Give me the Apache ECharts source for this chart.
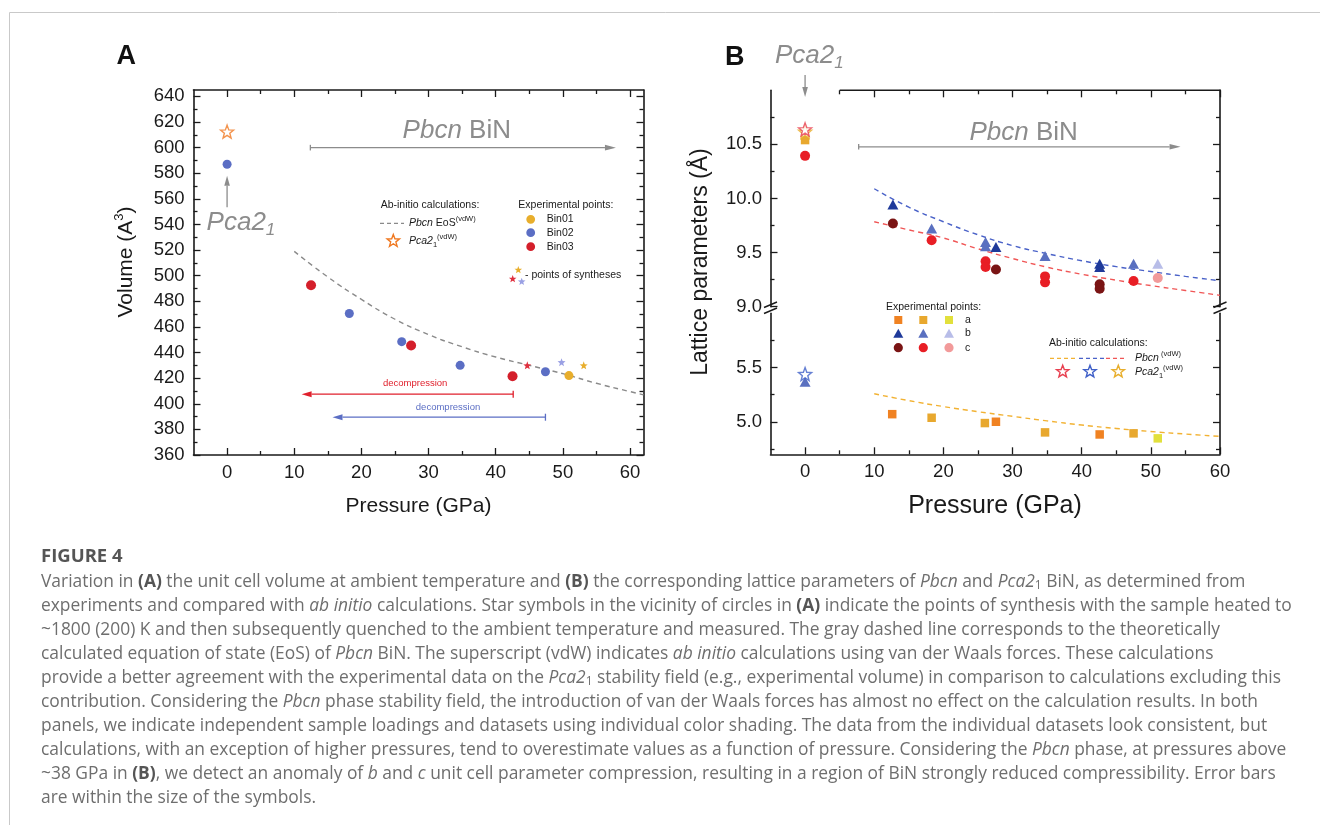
<!DOCTYPE html>
<html>
<head>
<meta charset="utf-8">
<title>Figure 4</title>
<script src="https://cdn.jsdelivr.net/npm/echarts@6.0.0/dist/echarts.min.js"></script>
<style>
  html, body { margin: 0; padding: 0; background: #fff; }
  #chart { width: 1320px; height: 825px; }
</style>
</head>
<body>
<div id="chart"></div>
<script>
// ---------- Panel A: unit cell volume vs pressure (GPa)
const bin01Vol = [[50.9, 422]];
const bin02Vol = [[0, 587], [18.2, 470.5], [26.0, 448.5], [34.7, 430], [47.4, 425]];
const bin03Vol = [[12.5, 492.5], [27.4, 445.5], [42.5, 421.5]];
const pca21Vol = [[0, 612.5]];
const synthBin01 = [[53.1, 430]];
const synthBin02 = [[49.8, 432.5]];
const synthBin03 = [[44.7, 430]];
const eosVol = [[10, 519], [15, 499], [20, 481.5], [25, 466], [30, 454], [35, 444.5],
  [40, 436.5], [45, 430], [50, 423.5], [55, 416], [60, 409.5], [62, 407]];

// ---------- Panel B: lattice parameters a, b, c (Å) vs pressure (GPa)
const aBin03 = [[12.6, 5.07], [27.6, 5.0], [42.6, 4.883]];
const aBin02 = [[0, 10.54], [18.3, 5.037], [26.0, 4.988], [34.7, 4.902], [47.5, 4.893]];
const aBin01 = [[51.0, 4.847]];
const bBin03 = [[12.7, 9.944], [27.6, 9.552], [42.6, 9.398], [42.6, 9.367]];
const bBin02 = [[0, 5.37], [18.3, 9.722], [26.1, 9.598], [26.1, 9.558], [34.7, 9.469], [47.5, 9.398]];
const bBin01 = [[51.0, 9.398]];
const cBin03 = [[12.7, 9.769], [27.6, 9.343], [42.6, 9.207], [42.6, 9.167]];
const cBin02 = [[0, 10.394], [18.3, 9.614], [26.1, 9.42], [26.1, 9.367], [34.7, 9.28], [34.7, 9.225], [47.5, 9.237]];
const cBin01 = [[51.0, 9.265]];
const pca21a = [[0, 10.617]];
const pca21b = [[0, 5.44]];
const pca21c = [[0, 10.639]];
const calcA = [[10, 5.258], [15, 5.195], [20, 5.14], [25, 5.093], [30, 5.05], [35, 5.008],
  [40, 4.97], [45, 4.938], [50, 4.91], [55, 4.887], [60, 4.865]];
const calcB = [[10, 10.09], [15, 9.92], [20, 9.785], [25, 9.665], [30, 9.565], [35, 9.49],
  [40, 9.425], [45, 9.37], [50, 9.325], [55, 9.28], [60, 9.24]];
const calcC = [[10, 9.785], [15, 9.71], [20, 9.635], [25, 9.535], [30, 9.445], [35, 9.365],
  [40, 9.30], [45, 9.245], [50, 9.195], [55, 9.15], [60, 9.105]];

// ---------- tick values
const xMajorA = [0, 10, 20, 30, 40, 50, 60];
const xMinorA = [5, 15, 25, 35, 45, 55];
const yMajorA = [360, 380, 400, 420, 440, 460, 480, 500, 520, 540, 560, 580, 600, 620, 640];
const yMinorA = [370, 390, 410, 430, 450, 470, 490, 510, 530, 550, 570, 590, 610, 630];
const xMajorB = [0, 10, 20, 30, 40, 50, 60];
const xMinorB = [5, 15, 25, 35, 45, 55];
const xTopMajorB = [10, 20, 30, 40, 50, 60];
const xTopMinorB = [5, 15, 25, 35, 45, 55];
const yMajorBUp = [9, 9.5, 10, 10.5];
const yMinorBUp = [9.25, 9.75, 10.25, 10.75];
const yMajorBLow = [5, 5.5];
const yMinorBLow = [4.75, 5.25, 5.75];

const PLOT_FONT = '"Liberation Sans", Arial, Helvetica, sans-serif';
const CAP_FONT = '"Open Sans", "Noto Sans", sans-serif';
const INK = '#1a1a1a';
const GRAY = '#8c8c8c';
const STAR = 'path://M0,-10L2.47,-3.4L9.51,-3.09L3.99,1.3L5.88,8.09L0,4.2L-5.88,8.09L-3.99,1.3L-9.51,-3.09L-2.47,-3.4Z';

const chart = echarts.init(document.getElementById('chart'));

function ax(grid, pos, min, max, ticks, major, opt) {
  opt = opt || {};
  return {
    type: 'value', gridIndex: grid, position: pos, min: min, max: max,
    splitLine: { show: false }, minorTick: { show: false },
    axisLine: { show: !!opt.line, onZero: false, lineStyle: { color: INK, width: 1.6 } },
    axisTick: { show: true, inside: true, length: major ? 7 : 4, customValues: ticks,
      lineStyle: { color: INK, width: 1.3 } },
    axisLabel: opt.labels ? { show: true, customValues: ticks, formatter: opt.fmt, color: INK,
      fontSize: 18.5, fontFamily: PLOT_FONT, margin: opt.margin } : { show: false }
  };
}
const oneDec = v => Number(v).toFixed(1);

const series = [];
function scat(xi, yi, data, symbol, size, color, extra) {
  series.push(Object.assign({
    type: 'scatter', xAxisIndex: xi, yAxisIndex: yi, data: data, symbol: symbol, symbolSize: size,
    itemStyle: { color: color, opacity: 1 }, silent: true
  }, extra || {}));
}
function dashed(xi, yi, data, color) {
  series.push({
    type: 'line', xAxisIndex: xi, yAxisIndex: yi, data: data, smooth: true, symbol: 'none',
    lineStyle: { color: color, width: 1.4, type: [5, 4] }, silent: true, z: 1
  });
}
// panel B points go to the upper or lower part of the broken axis
function scatB(data, symbol, size, color, extra) {
  const up = data.filter(p => p[1] > 7), lo = data.filter(p => p[1] <= 7);
  if (up.length) scat(4, 4, up, symbol, size, color, extra);
  if (lo.length) scat(6, 8, lo, symbol, size, color, extra);
}
const hollow = c => ({ itemStyle: { color: '#fff', borderColor: c, borderWidth: 1.4 } });

// Panel A
dashed(0, 0, eosVol, '#8a8a8a');
scat(0, 0, bin02Vol, 'circle', 9, '#5b6ec4');
scat(0, 0, bin03Vol, 'circle', 10, '#d41f2b');
scat(0, 0, bin01Vol, 'circle', 9, '#e8ae2c');
scat(0, 0, pca21Vol, STAR, 13, '#f07820', hollow('#f07820'));
scat(0, 0, synthBin03, STAR, 8, '#e0303f');
scat(0, 0, synthBin02, STAR, 8, '#9aa0e4');
scat(0, 0, synthBin01, STAR, 8, '#e8ae2c');

// Panel B
dashed(6, 8, calcA, '#f2b233');
dashed(4, 4, calcB, '#4a62c8');
dashed(4, 4, calcC, '#f05656');
scatB(aBin03, 'rect', 8.5, '#f08222');
scatB(aBin02, 'rect', 8.5, '#e8a82e');
scatB(aBin01, 'rect', 8.5, '#e2e03c');
scatB(bBin03, 'triangle', [11, 10], '#1f3a9a');
scatB(bBin02, 'triangle', [11, 10], '#5a70c0');
scatB(bBin01, 'triangle', [11, 10], '#b8bde8');
scatB(cBin03, 'circle', 10, '#7a1414');
scatB(cBin02, 'circle', 10, '#e81e25');
scatB(cBin01, 'circle', 10, '#f29a9a');
scatB(pca21a, STAR, 13, '#e8ae2c', hollow('#e8ae2c'));
scatB(pca21c, STAR, 13, '#e84050', hollow('#e84050'));
scatB(pca21b, STAR, 13, '#4060c8', hollow('#4060c8'));

const option = {
  animation: false,
  grid: [
    { left: 193.5, top: 90, width: 450, height: 365, outerBoundsMode: 'none' },
    { left: 770.5, top: 90.3, width: 449.5, height: 216.4, outerBoundsMode: 'none' },
    { left: 770.5, top: 313.3, width: 449.5, height: 141, outerBoundsMode: 'none' }
  ],
  xAxis: [
    ax(0, 'bottom', -5, 62, xMajorA, true, { line: true, labels: true, margin: 8 }),
    ax(0, 'bottom', -5, 62, xMinorA, false),
    ax(0, 'top', -5, 62, xMajorA, true, { line: true }),
    ax(0, 'top', -5, 62, xMinorA, false),
    ax(1, 'top', -5, 60, xTopMajorB, true),
    ax(1, 'top', -5, 60, xTopMinorB, false),
    ax(2, 'bottom', -5, 60, xMajorB, true, { line: true, labels: true, margin: 8.5 }),
    ax(2, 'bottom', -5, 60, xMinorB, false)
  ],
  yAxis: [
    ax(0, 'left', 360, 645, yMajorA, true, { line: true, labels: true, margin: 9 }),
    ax(0, 'left', 360, 645, yMinorA, false),
    ax(0, 'right', 360, 645, yMajorA, true, { line: true }),
    ax(0, 'right', 360, 645, yMinorA, false),
    ax(1, 'left', 9, 11, yMajorBUp, true, { line: true, labels: true, margin: 8.5, fmt: oneDec }),
    ax(1, 'left', 9, 11, yMinorBUp, false),
    ax(1, 'right', 9, 11, yMajorBUp, true, { line: true }),
    ax(1, 'right', 9, 11, yMinorBUp, false),
    ax(2, 'left', 4.7, 6, yMajorBLow, true, { line: true, labels: true, margin: 8.5, fmt: oneDec }),
    ax(2, 'left', 4.7, 6, yMinorBLow, false),
    ax(2, 'right', 4.7, 6, yMajorBLow, true, { line: true }),
    ax(2, 'right', 4.7, 6, yMinorBLow, false)
  ],
  series: series
};
chart.setOption(option);

// ---------- annotations, legends, titles, caption
const pA = (x, y) => chart.convertToPixel({ xAxisIndex: 0, yAxisIndex: 0 }, [x, y]);
const pB = (x, y) => chart.convertToPixel({ xAxisIndex: 4, yAxisIndex: 4 }, [x, y]);

function font(size, o) {
  return Object.assign({ fontFamily: PLOT_FONT, fontSize: size, fill: INK }, o || {});
}
function txt(x, y, text, style, extra) {
  return Object.assign({
    type: 'text', x: x, y: y, silent: true,
    style: Object.assign({ text: text, fontFamily: PLOT_FONT, fill: INK, align: 'left', verticalAlign: 'middle' }, style)
  }, extra || {});
}
function line(x1, y1, x2, y2, color, w, dash) {
  return { type: 'line', silent: true, shape: { x1: x1, y1: y1, x2: x2, y2: y2 },
    style: { stroke: color, lineWidth: w || 1.3, lineDash: dash || null } };
}
function arrow(p1, p2, color, bar, hl, hw) {
  hl = hl || 11; hw = hw || 3;
  const dx = p2[0] - p1[0], dy = p2[1] - p1[1], len = Math.hypot(dx, dy);
  const ux = dx / len, uy = dy / len;
  const bx = p2[0] - ux * hl, by = p2[1] - uy * hl;
  const els = [
    line(p1[0], p1[1], bx, by, color, 1.3),
    { type: 'polygon', silent: true, shape: { points: [p2, [bx - uy * hw, by + ux * hw], [bx + uy * hw, by - ux * hw]] },
      style: { fill: color } }
  ];
  if (bar) els.push(line(p1[0] - uy * bar, p1[1] + ux * bar, p1[0] + uy * bar, p1[1] - ux * bar, color, 1.3));
  return els;
}
function starPts(cx, cy, r) {
  const pts = [];
  for (let i = 0; i < 10; i++) {
    const a = -Math.PI / 2 + i * Math.PI / 5, rr = i % 2 ? r * 0.42 : r;
    pts.push([cx + rr * Math.cos(a), cy + rr * Math.sin(a)]);
  }
  return pts;
}
function star(cx, cy, r, color, filled) {
  return { type: 'polygon', silent: true, shape: { points: starPts(cx, cy, r) },
    style: filled ? { fill: color } : { fill: '#fff', stroke: color, lineWidth: 1.4 } };
}
function dot(cx, cy, r, color) {
  return { type: 'circle', silent: true, shape: { cx: cx, cy: cy, r: r }, style: { fill: color } };
}
function sq(cx, cy, s, color) {
  return { type: 'rect', silent: true, shape: { x: cx - s / 2, y: cy - s / 2, width: s, height: s }, style: { fill: color } };
}
function tri(cx, cy, w, h, color) {
  return { type: 'polygon', silent: true, shape: { points: [[cx, cy - h / 2], [cx + w / 2, cy + h / 2], [cx - w / 2, cy + h / 2]] },
    style: { fill: color } };
}

const legRich = {
  i: font(10.5, { fontStyle: 'italic', lineHeight: 16 }),
  sup: font(7.5, { lineHeight: 8, verticalAlign: 'top' }),
  sub: font(7.5, { lineHeight: 8, verticalAlign: 'bottom' })
};
const bigRich = {
  i: font(26, { fontStyle: 'italic', fill: GRAY, lineHeight: 32 }),
  sub: font(17, { fontStyle: 'italic', fill: GRAY, lineHeight: 17, verticalAlign: 'bottom' })
};
const L = 10.5;

const g = [];
// figure frame
g.push({ type: 'polyline', silent: true, shape: { points: [[9.5, 840], [9.5, 12.5], [1340, 12.5]] },
  style: { stroke: '#c9c9c9', lineWidth: 1, fill: null } });

// panel letters
g.push(txt(126.3, 57, 'A', { fontSize: 27, fontWeight: 'bold', align: 'center', fill: '#111' }));
g.push(txt(734.8, 58, 'B', { fontSize: 27, fontWeight: 'bold', align: 'center', fill: '#111' }));

// axis titles
g.push(txt(126, 262, '{n|Volume (A}{sup|3}{n|)}', {
  align: 'center', rich: { n: font(21, { lineHeight: 26 }), sup: font(13, { lineHeight: 13, verticalAlign: 'top' }) }
}, { rotation: Math.PI / 2 }));
g.push(txt(418.5, 506, 'Pressure (GPa)', { fontSize: 21, align: 'center' }));
g.push(txt(701, 262, 'Lattice parameters (Å)', { fontSize: 23, align: 'center' }, { rotation: Math.PI / 2 }));
g.push(txt(995, 506.5, 'Pressure (GPa)', { fontSize: 25, align: 'center' }));

// ---- panel A annotations
let p = pA(34.2, 613.4);
g.push(txt(p[0], p[1], '{i|Pbcn} BiN', { fontSize: 26, fill: GRAY, align: 'center', lineHeight: 32, rich: bigRich }));
g.push(...arrow(pA(12.4, 600), pA(57.9, 600), GRAY, 2.8, 11, 2.8));
p = pA(-3.05, 541);
g.push(txt(p[0], p[1], '{i|Pca2}{sub|1}', { fontSize: 26, fill: GRAY, rich: bigRich }));
g.push(...arrow(pA(0, 553.5), pA(0, 578), GRAY, 0, 10, 2.8));
const RED = '#e0202c', BLUE = '#5b6ec4';
g.push(...arrow(pA(42.6, 407.5), pA(11.1, 407.5), RED, 3.5, 10, 3));
g.push(...arrow(pA(47.4, 389.5), pA(15.7, 389.5), BLUE, 3.5, 10, 3));
p = pA(28.0, 416);
g.push(txt(p[0], p[1], 'decompression', { fontSize: 9.5, fill: RED, align: 'center' }));
p = pA(32.9, 397.3);
g.push(txt(p[0], p[1], 'decompression', { fontSize: 9.5, fill: BLUE, align: 'center' }));

// panel A legend
g.push(txt(380.7, 205, 'Ab-initio calculations:', { fontSize: L }));
g.push(line(380, 223.3, 404, 223.3, '#8a8a8a', 1.2, [4, 3]));
g.push(txt(409, 223.3, '{i|Pbcn} EoS{sup|(vdW)}', { fontSize: L, lineHeight: 16, rich: legRich }));
g.push(star(393.3, 241, 6.5, '#f07820', false));
g.push(txt(409, 241, '{i|Pca2}{sub|1}{sup|(vdW)}', { fontSize: L, lineHeight: 16, rich: legRich }));
g.push(txt(518.3, 205, 'Experimental points:', { fontSize: L }));
[['Bin01', '#e8ae2c', 219.3], ['Bin02', '#5b6ec4', 232.7], ['Bin03', '#d41f2b', 246.7]].forEach(r => {
  g.push(dot(530.7, r[2], 4.4, r[1]));
  g.push(txt(546.7, r[2], r[0], { fontSize: L }));
});
g.push(star(518.3, 270, 4, '#e8ae2c', true));
g.push(star(512.7, 279, 4, '#e0303f', true));
g.push(star(521.7, 281.7, 4, '#9aa0e4', true));
g.push(txt(525, 275, '- points of syntheses', { fontSize: L }));

// ---- panel B annotations
g.push(txt(775, 56, '{i|Pca2}{sub|1}', { fontSize: 26, fill: GRAY, rich: bigRich }));
const x0 = pB(0, 11)[0];
g.push(...arrow([x0, 75], [x0, 97], GRAY, 0, 10, 2.8));
p = pB(31.6, 10.607);
g.push(txt(p[0], p[1], '{i|Pbcn} BiN', { fontSize: 26, fill: GRAY, align: 'center', lineHeight: 32, rich: bigRich }));
g.push(...arrow(pB(7.75, 10.478), pB(54.3, 10.478), GRAY, 2.8, 11, 2.8));
// partial top frame of panel B
const t1 = pB(5, 11), t2 = pB(60, 11);
g.push(line(t1[0], t1[1], t2[0] + 0.8, t2[1], INK, 1.6));
// axis break marks
[770.5, 1220].forEach(bx => {
  g.push({ type: 'rect', silent: true, shape: { x: bx - 3, y: 306.9, width: 6, height: 6.2 }, style: { fill: '#fff' } });
  g.push(line(bx - 6.5, 307.5, bx + 6.5, 302, INK, 1.4));
  g.push(line(bx - 6.5, 313.5, bx + 6.5, 308, INK, 1.4));
});

// panel B legend
g.push(txt(886, 306.7, 'Experimental points:', { fontSize: L }));
const legX = [898.3, 923.3, 949];
['#f08222', '#e8a82e', '#e2e03c'].forEach((c, i) => g.push(sq(legX[i], 320, 8, c)));
['#1f3a9a', '#5a70c0', '#b8bde8'].forEach((c, i) => g.push(tri(legX[i], 333.3, 10, 9, c)));
['#7a1414', '#e81e25', '#f29a9a'].forEach((c, i) => g.push(dot(legX[i], 347.7, 4.6, c)));
g.push(txt(965, 320, 'a', { fontSize: L }));
g.push(txt(965, 333.3, 'b', { fontSize: L }));
g.push(txt(965, 347.7, 'c', { fontSize: L }));
g.push(txt(1049, 343.3, 'Ab-initio calculations:', { fontSize: L }));
g.push(line(1050, 358.3, 1077, 358.3, '#f2b233', 1.3, [4, 3]));
g.push(line(1079, 358.3, 1104, 358.3, '#4a62c8', 1.3, [4, 3]));
g.push(line(1106, 358.3, 1124, 358.3, '#f05656', 1.3, [4, 3]));
g.push(txt(1135, 358.3, '{i|Pbcn}{sup| (vdW)}', { fontSize: L, lineHeight: 16, rich: legRich }));
g.push(star(1062.7, 371.7, 6.5, '#e84050', false));
g.push(star(1090, 371.7, 6.5, '#4060c8', false));
g.push(star(1118.3, 371.7, 6.5, '#e8ae2c', false));
g.push(txt(1135, 371.7, '{i|Pca2}{sub|1}{sup|(vdW)}', { fontSize: L, lineHeight: 16, rich: legRich }));

// ---- caption
const CAP = '#6e6e6e';
const CS = 17.4;
const capRich = {
  b: { fontFamily: CAP_FONT, fontSize: CS, fontWeight: 'bold', fill: '#555', lineHeight: 20 },
  i: { fontFamily: CAP_FONT, fontSize: CS, fontStyle: 'italic', fill: CAP, lineHeight: 20 },
  s: { fontFamily: CAP_FONT, fontSize: 12, fill: CAP, lineHeight: 12, verticalAlign: 'bottom' }
};
const captionLines = [
  'Variation in {b|(A)} the unit cell volume at ambient temperature and {b|(B)} the corresponding lattice parameters of {i|Pbcn} and {i|Pca2}{s|1} BiN, as determined from',
  'experiments and compared with {i|ab initio} calculations. Star symbols in the vicinity of circles in {b|(A)} indicate the points of synthesis with the sample heated to',
  '~1800 (200) K and then subsequently quenched to the ambient temperature and measured. The gray dashed line corresponds to the theoretically',
  'calculated equation of state (EoS) of {i|Pbcn} BiN. The superscript (vdW) indicates {i|ab initio} calculations using van der Waals forces. These calculations',
  'provide a better agreement with the experimental data on the {i|Pca2}{s|1} stability field (e.g., experimental volume) in comparison to calculations excluding this',
  'contribution. Considering the {i|Pbcn} phase stability field, the introduction of van der Waals forces has almost no effect on the calculation results. In both',
  'panels, we indicate independent sample loadings and datasets using individual color shading. The data from the individual datasets look consistent, but',
  'calculations, with an exception of higher pressures, tend to overestimate values as a function of pressure. Considering the {i|Pbcn} phase, at pressures above',
  '~38 GPa in {b|(B)}, we detect an anomaly of {i|b} and {i|c} unit cell parameter compression, resulting in a region of BiN strongly reduced compressibility. Error bars',
  'are within the size of the symbols.'
];
g.push(txt(41, 557, 'FIGURE 4', { fontFamily: CAP_FONT, fontSize: 18.5, fontWeight: 'bold', fill: '#555' }));
captionLines.forEach((s, i) => {
  g.push(txt(41, 581.7 + 24 * i, s, { fontFamily: CAP_FONT, fontSize: CS, fill: CAP, lineHeight: 20, rich: capRich }));
});

chart.setOption({ graphic: { elements: g } });
</script>
</body>
</html>
